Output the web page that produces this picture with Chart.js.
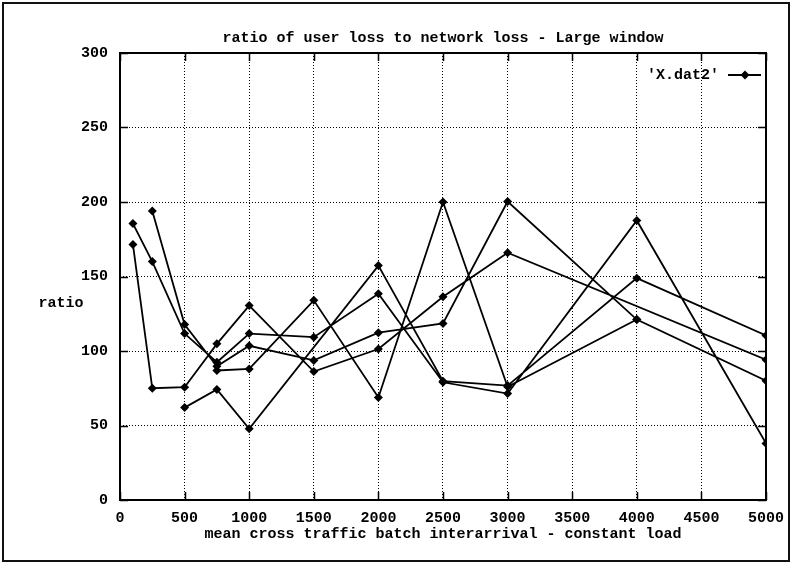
<!DOCTYPE html>
<html>
<head>
<meta charset="utf-8">
<title>ratio of user loss to network loss - Large window</title>
<script src="https://cdn.jsdelivr.net/npm/chart.js@4.4.1/dist/chart.umd.min.js"></script>
<style>
  html, body { margin: 0; padding: 0; background: #fff; }
  #wrap { width: 793px; height: 564px; position: relative; }
</style>
</head>
<body>
<div id="wrap"><canvas id="lossChart"></canvas></div>
<script>
// x positions used by the runs (mean cross traffic batch interarrival)
const xValues = [100, 250, 500, 750, 1000, 1500, 2000, 2500, 3000, 4000, 5000];

// one array per run in 'X.dat2', null where the run has no point
const run1 = [185.5, 160, 111.7, 92.5, 111.7, 109.3, 138.4, 79, 71.4, 187.6, 38];
const run2 = [171.5, 75, 75.7, 104.8, 130.5, 86.2, 101.3, 136.4, 166, null, 94.1];
const run3 = [null, 194, 117.8, 89.8, 103.5, 93.7, 112.3, 118.5, 200.3, 121.1, 80];
const run4 = [null, null, 62, 74.2, 47.8, null, 157.3, 79.7, 76.8, 148.9, 110.4];
const run5 = [null, null, null, 86.9, 88, 134, 68.8, 200, 76, 121.1, null];

const xTicks = [0, 500, 1000, 1500, 2000, 2500, 3000, 3500, 4000, 4500, 5000];
const yTicks = [0, 50, 100, 150, 200, 250, 300];

const titleText = "ratio of user loss to network loss - Large window";
const xLabelText = "mean cross traffic batch interarrival - constant load";
const yLabelText = "ratio";
const seriesName = "'X.dat2'";

const FONT = "'Liberation Mono', 'DejaVu Sans Mono', monospace";

// gnuplot draws all runs as one series, broken by blank lines
const runs = [run1, run2, run3, run4, run5];
const points = [];
runs.forEach((run, i) => {
  if (i > 0) points.push({ x: 0, y: null });
  run.forEach((y, j) => {
    if (y !== null) points.push({ x: xValues[j], y: y });
  });
});

// frame, border, inward ticks, titles and key
const gnuplotDecor = {
  id: "gnuplotDecor",
  afterDraw(chart) {
    const ctx = chart.ctx;
    const a = chart.chartArea;
    const xs = chart.scales.x;
    const ys = chart.scales.y;
    ctx.save();

    // outer frame of the figure
    ctx.strokeStyle = "#111";
    ctx.lineWidth = 2;
    ctx.strokeRect(3, 3, 786, 558);

    // plot border
    ctx.strokeStyle = "#000";
    ctx.lineWidth = 2;
    ctx.strokeRect(a.left, a.top, a.right - a.left, a.bottom - a.top);

    // inward tick marks on all four sides
    const len = 8;
    ctx.lineWidth = 1.5;
    ctx.beginPath();
    xTicks.forEach(v => {
      const px = Math.round(xs.getPixelForValue(v)) + 0.5;
      ctx.moveTo(px, a.bottom); ctx.lineTo(px, a.bottom - len);
      ctx.moveTo(px, a.top); ctx.lineTo(px, a.top + len);
    });
    yTicks.forEach(v => {
      const py = Math.round(ys.getPixelForValue(v)) + 0.5;
      ctx.moveTo(a.left, py); ctx.lineTo(a.left + len, py);
      ctx.moveTo(a.right, py); ctx.lineTo(a.right - len, py);
    });
    ctx.stroke();

    // texts
    ctx.fillStyle = "#000";
    ctx.font = "bold 15px " + FONT;
    ctx.textBaseline = "middle";
    ctx.textAlign = "center";
    const cx = (a.left + a.right) / 2;
    ctx.fillText(titleText, cx, 38);
    ctx.fillText(xLabelText, cx, 534);
    ctx.fillText(yLabelText, 61, 303);

    // key in the top right corner
    ctx.textAlign = "right";
    ctx.fillText(seriesName, 719, 75);
    ctx.lineWidth = 1.8;
    ctx.beginPath();
    ctx.moveTo(728, 75);
    ctx.lineTo(761, 75);
    ctx.stroke();
    ctx.beginPath();
    ctx.moveTo(745, 70.5); ctx.lineTo(749.5, 75); ctx.lineTo(745, 79.5); ctx.lineTo(740.5, 75);
    ctx.closePath();
    ctx.fill();

    ctx.restore();
  }
};

new Chart(document.getElementById("lossChart").getContext("2d"), {
  type: "line",
  data: {
    datasets: [
      {
        label: seriesName,
        data: points,
        borderColor: "#000",
        backgroundColor: "#000",
        borderWidth: 1.8,
        pointStyle: "rectRot",
        pointRadius: 4.5,
        pointBorderWidth: 0,
        pointBackgroundColor: "#000",
        spanGaps: false,
        tension: 0,
      },
    ],
  },
  options: {
    responsive: true,
    maintainAspectRatio: false,
    animation: false,
    devicePixelRatio: 1,
    layout: { padding: { left: 0, top: 53, right: 27, bottom: 0 } },
    scales: {
      x: {
        type: "linear",
        min: 0,
        max: 5000,
        afterBuildTicks: (scale) => { scale.ticks = xTicks.map(v => ({ value: v })); },
        afterFit: (scale) => { scale.height = 64; },
        ticks: {
          color: "#000",
          padding: 9,
          maxRotation: 0,
          callback: (value) => String(value),
          font: { family: FONT, size: 15, weight: "bold" },
        },
        grid: { color: "#000", lineWidth: 1, drawTicks: false },
        border: { display: false, dash: [1, 2] },
      },
      y: {
        type: "linear",
        min: 0,
        max: 300,
        afterBuildTicks: (scale) => { scale.ticks = yTicks.map(v => ({ value: v })); },
        afterFit: (scale) => { scale.width = 120; },
        ticks: {
          color: "#000",
          padding: 12,
          callback: (value) => String(value),
          font: { family: FONT, size: 15, weight: "bold" },
        },
        grid: { color: "#000", lineWidth: 1, drawTicks: false },
        border: { display: false, dash: [1, 2] },
      },
    },
    plugins: {
      legend: { display: false },
      title: { display: false },
      tooltip: { enabled: false },
    },
  },
  plugins: [gnuplotDecor],
});
</script>
</body>
</html>
